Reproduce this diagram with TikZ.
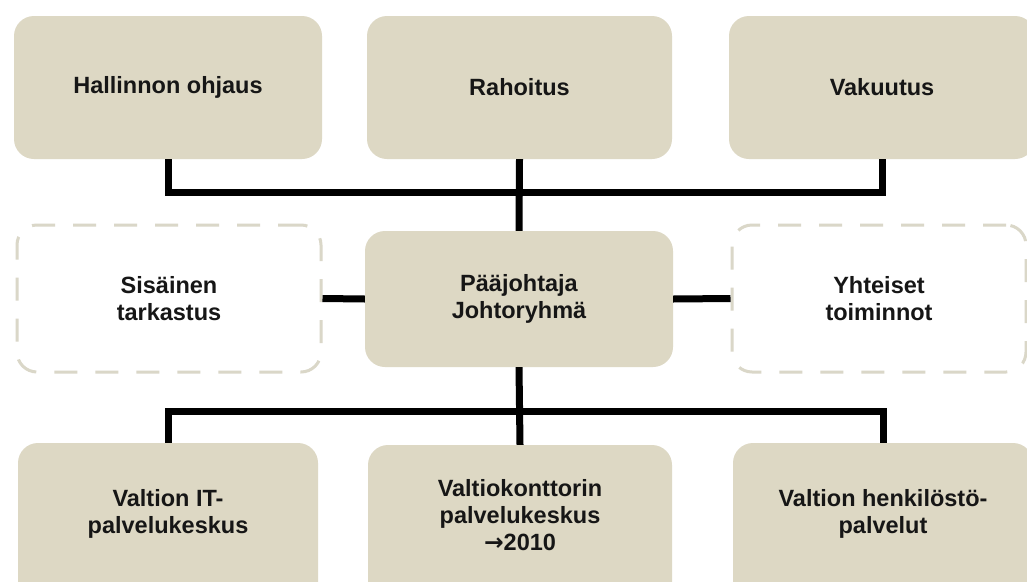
\documentclass[tikz,border=0pt]{standalone}
\usepackage{fontspec}
\setmainfont{Liberation Sans}
\newfontfamily\arrfont{DejaVu Sans}
\definecolor{boxfill}{RGB}{221,216,196}
\definecolor{dashcol}{RGB}{218,215,200}
\definecolor{txt}{RGB}{22,22,22}
\begin{document}
\begin{tikzpicture}[x=1pt,y=-1pt,
  txtstyle/.style={font=\bfseries\fontsize{23.5}{27}\selectfont, text=txt, align=center},
  box/.style={txtstyle, fill=boxfill, draw=none, rounded corners=20pt, inner sep=0pt},
  dbox/.style={txtstyle, fill=white, draw=dashcol, line width=3pt, dash pattern=on 23pt off 18pt, rounded corners=20pt, inner sep=0pt},
  conn/.style={line width=7pt, black}
]
\useasboundingbox (0,0) rectangle (1027,581);
\clip (0,0) rectangle (1027,581);
\fill[white] (0,0) rectangle (1027,581);

% top row
\node[box, minimum width=308pt, minimum height=143pt] (hall) at (168,87.5) {Hallinnon ohjaus};
\node[box, minimum width=305pt, minimum height=143pt] (rah) at (519.5,87.5) {Rahoitus};
\node[box, minimum width=306pt, minimum height=143pt] (vak) at (882,87.5) {Vakuutus};

% middle row
\node[dbox, minimum width=304pt, minimum height=147pt] (sis) at (169,298.5) {Sisäinen\\tarkastus};
\node[box, minimum width=308pt, minimum height=136pt] (paa) at (519,299) {Pääjohtaja\\Johtoryhmä};
\node[dbox, minimum width=294pt, minimum height=147pt] (yht) at (879,298.5) {Yhteiset\\toiminnot};

% bottom row
\node[box, minimum width=300pt, minimum height=160pt,
  label={[txtstyle, yshift=9pt]center:Valtion IT-\\palvelukeskus}] (bl) at (168,523) {};
\node[box, minimum width=304pt, minimum height=160pt,
  label={[txtstyle, yshift=10pt]center:Valtiokonttorin\\palvelukeskus\\{\arrfont\bfseries →}2010}] (bm) at (520,525) {};
\node[box, minimum width=300pt, minimum height=160pt,
  label={[txtstyle, yshift=9pt]center:Valtion henkilöstö-\\palvelut}] (br) at (883,523) {};

% buses
\coordinate (topbus) at (519.5,192);
\coordinate (botbus) at (519.5,411);

\draw[conn] (hall.south) |- (topbus) -| (vak.south);
\draw[conn] (rah.south) -- (paa.north);
\draw[conn] (sis.east) -- (paa.west);
\draw[conn] (paa.east) -- (yht.west);
\draw[conn] (paa.south) -- (bm.north);
\draw[conn] (bl.north) |- (botbus) -| (br.north);
\end{tikzpicture}
\end{document}
